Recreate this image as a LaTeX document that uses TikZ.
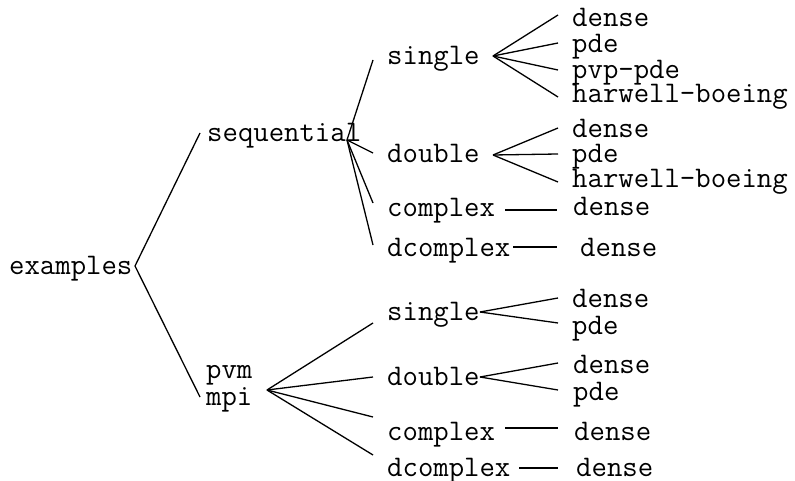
\documentclass[tikz,border=0pt]{standalone}
\usepackage{fontspec}
\begin{document}
\begin{tikzpicture}[x=1pt,y=-1pt,
  label/.style={font=\ttfamily\fontsize{29.9}{26.8}\selectfont, inner sep=0pt, anchor=base west},
  branch/.style={line width=1.3pt}]
\useasboundingbox (0,0) rectangle (795,481);

% ---- labels ----
\node[label] (examples) at (9,274) {examples};
\node[label] (seq) at (207,142) {sequential};
\node[label, align=left] (pm) at (206,405) {pvm\\mpi};

% sequential branch
\node[label] (sA) at (387,65)  {single};
\node[label] (dA) at (387,163) {double};
\node[label] (cA) at (387,217) {complex};
\node[label] (zA) at (387,256) {dcomplex};
\node[label] (sA1) at (572,27)  {dense};
\node[label] (sA2) at (572,53)  {pde};
\node[label] (sA3) at (572,79)  {pvp-pde};
\node[label] (sA4) at (572,103) {harwell-boeing};
\node[label] (dA1) at (572,138) {dense};
\node[label] (dA2) at (572,163) {pde};
\node[label] (dA3) at (572,188) {harwell-boeing};
\node[label] (cA1) at (573,216) {dense};
\node[label] (zA1) at (580,256) {dense};

% pvm / mpi branch
\node[label] (sB) at (387,320) {single};
\node[label] (dB) at (387,385) {double};
\node[label] (cB) at (387,440) {complex};
\node[label] (zB) at (387,476) {dcomplex};
\node[label] (sB1) at (572,307) {dense};
\node[label] (sB2) at (572,334) {pde};
\node[label] (dB1) at (573,373) {dense};
\node[label] (dB2) at (573,400) {pde};
\node[label] (cB1) at (574,440) {dense};
\node[label] (zB1) at (576,476) {dense};

% ---- branch points ----
\coordinate (examples-out) at (135,266);
\coordinate (seq-in)  at (200,133);
\coordinate (pm-in)   at (200,397);
\coordinate (seq-out) at (347,140);
\coordinate (pm-out)  at (267,390);

\coordinate (sA-in) at (373,60);
\coordinate (dA-in) at (373,153);
\coordinate (cA-in) at (373,203);
\coordinate (zA-in) at (373,245);
\coordinate (sA-out) at (493,56);
\coordinate (dA-out) at (493,155);
\coordinate (cA-out) at (505,210);
\coordinate (zA-out) at (513,247);
\coordinate (sA1-in) at (558,15);
\coordinate (sA2-in) at (558,43);
\coordinate (sA3-in) at (558,70);
\coordinate (sA4-in) at (558,97);
\coordinate (dA1-in) at (558,128);
\coordinate (dA2-in) at (558,154);
\coordinate (dA3-in) at (558,182);
\coordinate (cA1-in) at (557,210);
\coordinate (zA1-in) at (557,247);

\coordinate (sB-in) at (373,323);
\coordinate (dB-in) at (373,377);
\coordinate (cB-in) at (373,417);
\coordinate (zB-in) at (373,455);
\coordinate (sB-out) at (480,312);
\coordinate (dB-out) at (480,377);
\coordinate (cB-out) at (505,428);
\coordinate (zB-out) at (519,468);
\coordinate (sB1-in) at (558,298);
\coordinate (sB2-in) at (558,323);
\coordinate (dB1-in) at (558,363);
\coordinate (dB2-in) at (558,390);
\coordinate (cB1-in) at (558,428);
\coordinate (zB1-in) at (558,468);

% ---- connectors ----
\draw[branch] (seq-in) -- (examples-out) -- (pm-in);
\foreach \c in {sA,dA,cA,zA} \draw[branch] (seq-out) -- (\c-in);
\foreach \c in {sB,dB,cB,zB} \draw[branch] (pm-out) -- (\c-in);
\foreach \c in {sA1,sA2,sA3,sA4} \draw[branch] (sA-out) -- (\c-in);
\foreach \c in {dA1,dA2,dA3} \draw[branch] (dA-out) -- (\c-in);
\draw[branch] (cA-out) -- (cA1-in);
\draw[branch] (zA-out) -- (zA1-in);
\foreach \c in {sB1,sB2} \draw[branch] (sB-out) -- (\c-in);
\foreach \c in {dB1,dB2} \draw[branch] (dB-out) -- (\c-in);
\draw[branch] (cB-out) -- (cB1-in);
\draw[branch] (zB-out) -- (zB1-in);
\end{tikzpicture}
\end{document}
